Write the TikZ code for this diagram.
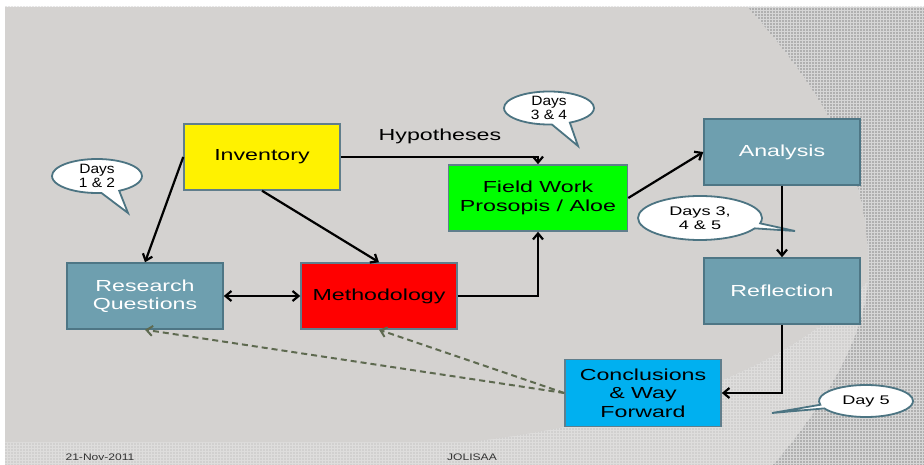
\documentclass[tikz,border=0pt]{standalone}
\usepackage{fontspec}
\setmainfont{Liberation Sans}[FakeStretch=1.45]
\newfontfamily\narrowfont{Liberation Sans}[FakeStretch=1.15]
\newfontfamily\footfont{Liberation Sans}[FakeStretch=1.27]
\usetikzlibrary{arrows.meta,patterns.meta,shapes.callouts}
\definecolor{slidegray}{RGB}{212,210,208}
\definecolor{dotbase}{RGB}{214,214,214}
\definecolor{lightbase}{RGB}{222,221,220}
\definecolor{tealfill}{RGB}{110,159,175}
\definecolor{tealline}{RGB}{78,118,133}
\definecolor{boxline}{RGB}{96,126,140}
\definecolor{bubbleline}{RGB}{76,116,130}
\definecolor{fieldgreen}{RGB}{0,255,0}
\definecolor{conclblue}{RGB}{0,176,240}
\definecolor{dashgreen}{RGB}{94,106,80}
\begin{document}
\begin{tikzpicture}[x=1pt,y=-1pt,>={Straight Barb[length=6pt,width=10pt]},
  box/.style={draw=boxline,line width=1.5pt,minimum width=156pt,minimum height=66pt,
    inner sep=2pt,align=center,font=\fontsize{16}{18.5}\selectfont},
  tealbox/.style={box,draw=tealline,fill=tealfill,text=white},
  tag/.style={font=\fontsize{16}{18.5}\selectfont},
  bubble/.style={ellipse callout,draw=bubbleline,line width=1.8pt,fill=white,
    inner sep=0pt,align=center,callout pointer arc=24},
  link/.style={line width=2.2pt,->},
  backlink/.style={draw=dashgreen,line width=2pt,dash pattern=on 6pt off 4pt,->}]
  \useasboundingbox (0,0) rectangle (924,465);
  % Slide background
  \fill[white] (0,0) rectangle (924,465);
  \fill[lightbase] (5,7) rectangle (924,465);
  \fill[pattern={Dots[radius=0.6pt,distance=3pt]},pattern color=gray!70] (5,7) rectangle (924,465);
  \fill[slidegray] (5,7) -- (748,7) .. controls (825,95) and (872,170) .. (868,280)
    .. controls (800,365) and (650,420) .. (470,442) -- (5,442) -- cycle;
  \fill[dotbase] (748,7) .. controls (825,95) and (872,170) .. (868,280)
    .. controls (866,330) and (830,400) .. (773,465) -- (924,465) -- (924,7) -- cycle;
  \fill[pattern={Dots[radius=0.7pt,distance=3pt]},pattern color=black!80] (748,7) .. controls (825,95) and (872,170) .. (868,280)
    .. controls (866,330) and (830,400) .. (773,465) -- (924,465) -- (924,7) -- cycle;
  % Boxes
  \node[box,fill=yellow] (inv) at (262,157) {Inventory};
  \node[tealbox] (rq) at (145,296) {Research\\Questions};
  \node[box,fill=red] (meth) at (379,296) {Methodology};
  \node[box,fill=fieldgreen,minimum width=179pt] (field) at (538,198) {Field Work\\Prosopis / Aloe};
  \node[tealbox] (ana) at (782,152) {Analysis};
  \node[tealbox] (refl) at (782,291) {Reflection};
  \node[box,fill=conclblue,minimum height=67pt] (concl) at (643,393) {Conclusions\\\& Way\\Forward};
  % Callouts
  \node[bubble,minimum width=90pt,minimum height=34pt,callout absolute pointer={(128,213)},
    font=\narrowfont\fontsize{13.5}{13.5}\selectfont] (days12) at (97,176) {Days\\1 \& 2};
  \node[bubble,minimum width=90pt,minimum height=33pt,callout absolute pointer={(578,146)},
    font=\narrowfont\fontsize{13.5}{13.5}\selectfont] (days34) at (549,108) {Days\\3 \& 4};
  \node[bubble,minimum width=124pt,minimum height=44pt,callout absolute pointer={(795,231)},
    callout pointer arc=14,font=\fontsize{12.5}{14}\selectfont] (days345) at (700,218) {Days 3,\\4 \& 5};
  \node[bubble,minimum width=94pt,minimum height=32pt,callout absolute pointer={(772,413)},
    callout pointer arc=14,font=\fontsize{12.5}{14}\selectfont] (day5) at (866,401) {Day 5};
  % Connectors
  \draw[link] (inv.west) -- (rq.north);
  \draw[link] (inv.south) -- (meth.north);
  \draw[link] (inv.east) -| (field.north);
  \node[tag] (hyp) at (440,136) {Hypotheses};
  \draw[line width=2.2pt,<->] (rq.east) -- (meth.west);
  \draw[link] (meth.east) -| (field.south);
  \draw[link] (field.east) -- (ana.west);
  \draw[link] (ana.south) -- (refl.north);
  \draw[link] (refl.south) |- (concl.east);
  \draw[backlink] (concl.west) -- (rq.south);
  \draw[backlink] (concl.west) -- (meth.south);
  % Footer
  \node[font=\footfont\fontsize{9.5}{11}\selectfont,text=black!80] (date) at (100,457) {21-Nov-2011};
  \node[font=\footfont\fontsize{9.5}{11}\selectfont,text=black!80] (org) at (472,457) {JOLISAA};
\end{tikzpicture}
\end{document}
